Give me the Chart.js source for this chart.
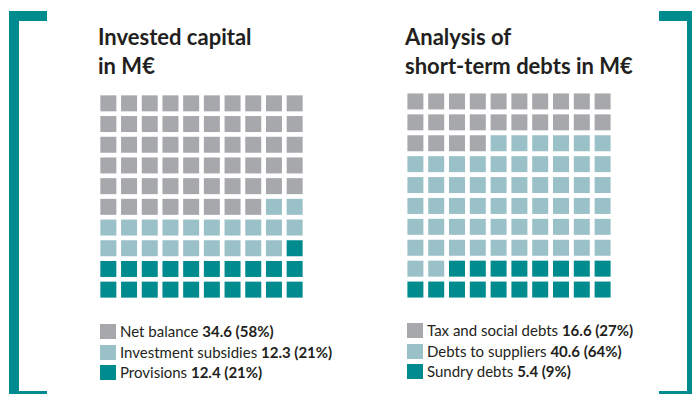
<!DOCTYPE html>
<html lang="en">
<head>
<meta charset="utf-8">
<title>Invested capital and short-term debts</title>
<script src="https://cdn.jsdelivr.net/npm/chart.js@4.4.1/dist/chart.umd.min.js"></script>
<style>
    html, body {
        margin: 0;
        padding: 0;
        background: #ffffff;
    }
    body {
        position: relative;
        width: 692px;
        height: 394px;
        overflow: hidden;
        font-family: Lato, 'Noto Sans', sans-serif;
        color: #231f20;
    }
    .bracket {
        position: absolute;
        top: 11px;
        height: 370px;
        width: 28px;
        border-top: 10px solid #008b8f;
        border-bottom: 10px solid #008b8f;
    }
    .bracket.left {
        left: 9px;
        border-left: 10px solid #008b8f;
    }
    .bracket.right {
        left: 659px;
        border-right: 10px solid #008b8f;
    }
    .title {
        position: absolute;
        margin: 0;
        font-size: 22px;
        font-weight: 700;
        line-height: 28.5px;
    }
    .waffle {
        position: absolute;
    }
    .legend {
        position: absolute;
        font-size: 15px;
    }
    .legend-item {
        position: relative;
        height: 20.7px;
        white-space: nowrap;
    }
    .legend-color {
        position: absolute;
        left: 0;
        top: 0;
        width: 16px;
        height: 15px;
    }
    .legend-text {
        position: absolute;
        left: 20px;
        top: -2px;
        line-height: 18px;
    }
    .legend-text strong {
        font-weight: 700;
    }
</style>
</head>
<body>
    <div class="bracket left"></div>
    <div class="bracket right"></div>

    <h2 class="title" style="left: 98px; top: 23px;">Invested capital<br>in M€</h2>
    <h2 class="title" style="left: 405px; top: 23px;">Analysis of<br>short-term debts in M€</h2>

    <div class="waffle" style="left: 98px; top: 93px; width: 207px; height: 207px;">
        <canvas id="capitalChart"></canvas>
    </div>
    <div class="waffle" style="left: 405px; top: 91px; width: 208px; height: 209px;">
        <canvas id="debtChart"></canvas>
    </div>

    <div class="legend" id="capitalLegend" style="left: 100px; top: 324px;"></div>
    <div class="legend" id="debtLegend" style="left: 407px; top: 323px;"></div>

<script>
// --- Data ---

const capitalLabels = ['Net balance', 'Investment subsidies', 'Provisions'];
const capitalValues = [34.6, 12.3, 12.4];
const capitalShares = [58, 21, 21];
const capitalCells = [58, 21, 21];

const debtLabels = ['Tax and social debts', 'Debts to suppliers', 'Sundry debts'];
const debtValues = [16.6, 40.6, 5.4];
const debtShares = [27, 64, 9];
const debtCells = [24, 58, 18];

const colors = ['#a7a8ac', '#9bc1c8', '#008b8f'];

document.addEventListener('DOMContentLoaded', () => {
    initWaffle('capitalChart', capitalLabels, capitalCells);
    initWaffle('debtChart', debtLabels, debtCells);

    renderLegend('capitalLegend', capitalLabels, capitalValues, capitalShares);
    renderLegend('debtLegend', debtLabels, debtValues, debtShares);

    // --- Charts ---

    // 10x10 grid, filled row by row from the top left
    function initWaffle(id, labels, cells) {
        const ctx = document.getElementById(id).getContext('2d');
        const radius = 16 / (2 * Math.SQRT1_2); // 16px squares
        let start = 0;
        const datasets = labels.map((label, k) => {
            const points = [];
            for (let i = start; i < start + cells[k]; i++) {
                points.push({ x: i % 10, y: Math.floor(i / 10) });
            }
            start += cells[k];
            return {
                label: label,
                data: points,
                pointStyle: 'rect',
                pointRadius: radius,
                pointHoverRadius: radius,
                backgroundColor: colors[k],
                borderWidth: 0,
                hoverBorderWidth: 0,
                clip: false
            };
        });

        return new Chart(ctx, {
            type: 'scatter',
            data: { datasets: datasets },
            options: {
                responsive: true,
                maintainAspectRatio: false,
                animation: false,
                events: [],
                layout: { padding: 0, autoPadding: false },
                scales: {
                    x: { display: false, min: -0.5, max: 9.5 },
                    y: { display: false, min: -0.5, max: 9.5, reverse: true }
                },
                plugins: {
                    legend: { display: false },
                    tooltip: { enabled: false }
                }
            }
        });
    }

    // --- Legend ---

    function renderLegend(id, labels, values, shares) {
        const legend = document.getElementById(id);
        legend.innerHTML = '';
        labels.forEach((label, i) => {
            const item = document.createElement('div');
            item.className = 'legend-item';
            item.innerHTML = `
                <span class="legend-color" style="background-color: ${colors[i]}"></span>
                <span class="legend-text">${label} <strong>${values[i].toFixed(1)} (${shares[i]}%)</strong></span>
            `;
            legend.appendChild(item);
        });
    }
});
</script>
</body>
</html>
